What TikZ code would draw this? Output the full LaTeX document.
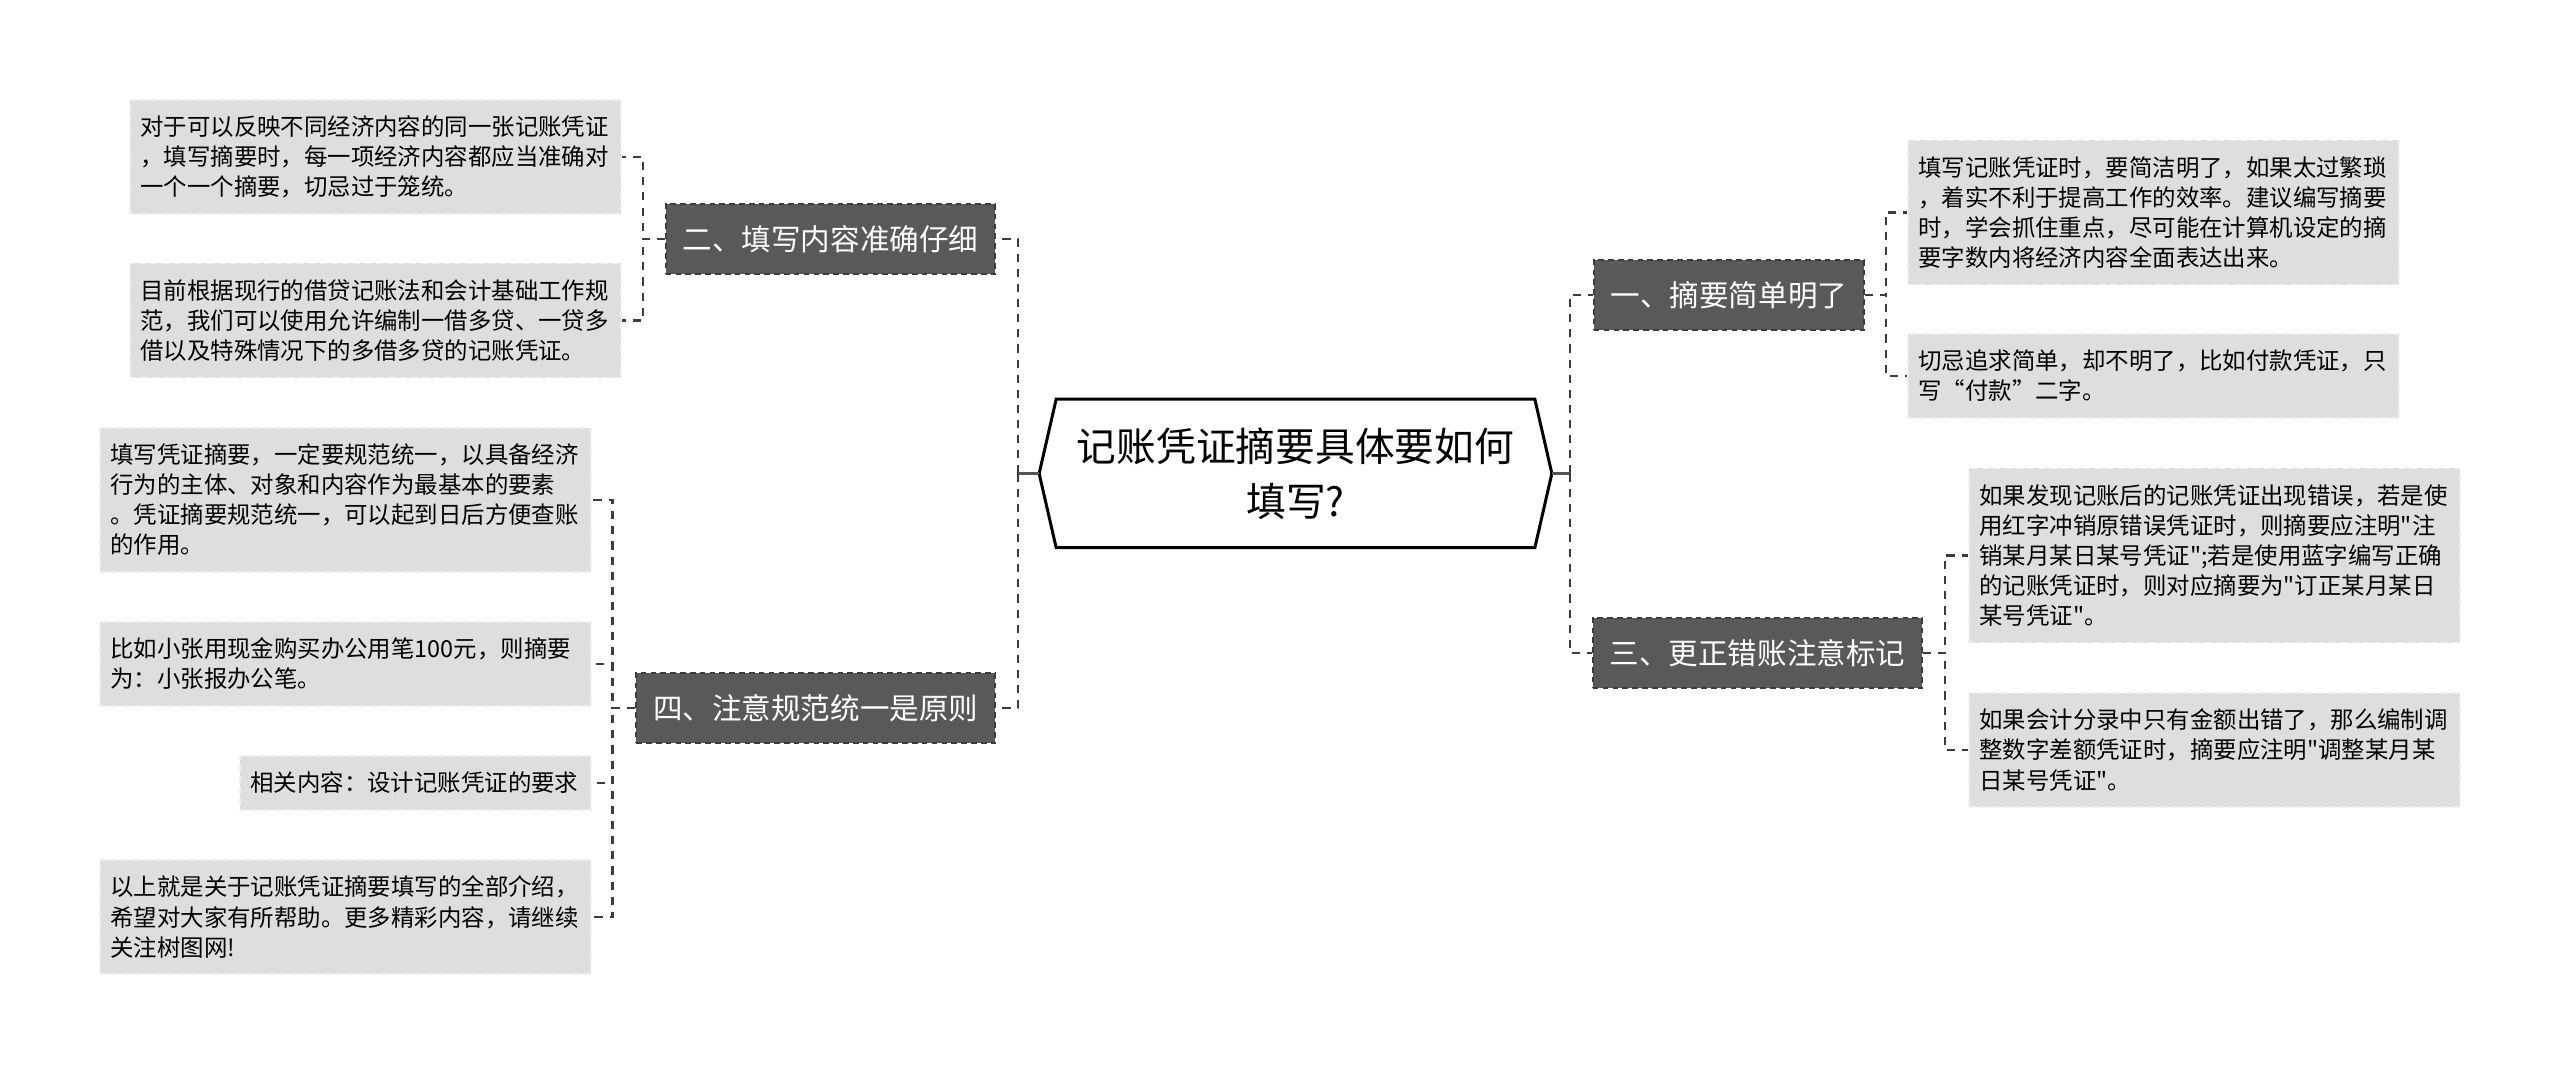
\documentclass[tikz,border=0pt]{standalone}
\usepackage{fontspec}
\newfontfamily\cjkfont{Noto Sans CJK SC}
\usetikzlibrary{calc}
\definecolor{branchgray}{HTML}{595959}
\definecolor{leafgray}{HTML}{DEDEDE}
\definecolor{linegray}{HTML}{3C3C3C}
\definecolor{stubgray}{HTML}{555555}

\begin{document}
\begin{tikzpicture}[
    x=0.01cm, y=-0.01cm,
    root/.style={rectangle, minimum width=5.11cm, minimum height=1.47cm, align=center, font=\cjkfont\fontsize{11.3pt}{15.6pt}\selectfont},
    rootline/.style={draw=black, line width=0.85pt, fill=white, line join=miter},
    topic/.style={rectangle, draw=linegray, line width=0.45pt, dash pattern=on 1.6pt off 1.2pt, fill=branchgray, text=white, minimum height=0.7cm, inner xsep=0.17cm, inner ysep=0pt, font=\cjkfont\fontsize{8.4pt}{10pt}\selectfont},
    leaf/.style={rectangle, draw=black!6, line width=0.5pt, dash pattern=on 1.8pt off 1.4pt, fill=leafgray, text width=4.7cm, align=left, inner xsep=0.105cm, inner ysep=0pt, font=\cjkfont\fontsize{6.66pt}{8.54pt}\selectfont},
    nlines/.style={minimum height=#1*0.3cm+0.24cm},
    link/.style={draw=linegray, line width=0.6pt, dash pattern=on 2.3pt off 2pt},
    stub/.style={draw=stubgray, line width=1.1pt}
  ]%
  \useasboundingbox (0,0) rectangle (2560,1074);
  %
  % Nodo central
  \node[root] (root) at (1295.5,473.5) {};
  \draw[rootline] (root.west) -- ([xshift=0.17cm]root.north west) -- ([xshift=-0.17cm]root.north east)
    -- (root.east) -- ([xshift=-0.17cm]root.south east) -- ([xshift=0.17cm]root.south west) -- cycle;
  \node[root] (roottext) at (root) {记账凭证摘要具体要如何\\填写?};
  \coordinate (busL) at (1018,473.5);
  \coordinate (busR) at (1570,473.5);
  %
  % Temas
  \node[topic, anchor=east] (detail) at (996,239) {二、填写内容准确仔细};
  \node[topic, anchor=east] (norm) at (996,708) {四、注意规范统一是原则};
  \node[topic, anchor=west] (simple) at (1593,295) {一、摘要简单明了};
  \node[topic, anchor=west] (correct) at (1592,653) {三、更正错账注意标记};
  %
  % Hojas izquierda
  \node[leaf, nlines=3, anchor=east] (detailA) at (622,157) {对于可以反映不同经济内容的同一张记账凭证\\，填写摘要时，每一项经济内容都应当准确对\\一个一个摘要，切忌过于笼统。};
  \node[leaf, nlines=3, anchor=east] (detailB) at (622,320.5) {目前根据现行的借贷记账法和会计基础工作规\\范，我们可以使用允许编制一借多贷、一贷多\\借以及特殊情况下的多借多贷的记账凭证。};
  \node[leaf, nlines=4, anchor=east] (normA) at (592,500) {填写凭证摘要，一定要规范统一，以具备经济\\行为的主体、对象和内容作为最基本的要素\\。凭证摘要规范统一，可以起到日后方便查账\\的作用。};
  \node[leaf, nlines=2, anchor=east] (normB) at (592,664) {比如小张用现金购买办公用笔100元，则摘要\\为：小张报办公笔。};
  \node[leaf, nlines=1, anchor=east, text width=3.3cm] (normC) at (592,783) {相关内容：设计记账凭证的要求};
  \node[leaf, nlines=3, anchor=east] (normD) at (592,917) {以上就是关于记账凭证摘要填写的全部介绍，\\希望对大家有所帮助。更多精彩内容，请继续\\关注树图网!};
  %
  % Hojas derecha
  \node[leaf, nlines=4, anchor=west] (simpleA) at (1907,212.5) {填写记账凭证时，要简洁明了，如果太过繁琐\\，着实不利于提高工作的效率。建议编写摘要\\时，学会抓住重点，尽可能在计算机设定的摘\\要字数内将经济内容全面表达出来。};
  \node[leaf, nlines=2, anchor=west] (simpleB) at (1907,376) {切忌追求简单，却不明了，比如付款凭证，只\\写“付款”二字。};
  \node[leaf, nlines=5, anchor=west] (correctA) at (1968,555.5) {如果发现记账后的记账凭证出现错误，若是使\\用红字冲销原错误凭证时，则摘要应注明"注\\销某月某日某号凭证";若是使用蓝字编写正确\\的记账凭证时，则对应摘要为"订正某月某日\\某号凭证"。};
  \node[leaf, nlines=3, anchor=west] (correctB) at (1968,750) {如果会计分录中只有金额出错了，那么编制调\\整数字差额凭证时，摘要应注明"调整某月某\\日某号凭证"。};
  %
  % Conexiones centrales
  \draw[stub] (root.west) -- (busL);
  \draw[stub] (root.east) -- (busR);
  \draw[link] (busL) |- (detail.east);
  \draw[link] (busL) |- (norm.east);
  \draw[link] (busR) |- (simple.west);
  \draw[link] (busR) |- (correct.west);
  %
  % Conexiones a hojas
  \draw[link] (detail.west) -- ++(-22,0) |- (detailA.east);
  \draw[link] (detail.west) -- ++(-22,0) |- (detailB.east);
  \draw[link] (norm.west) -- ++(-23,0) |- (normA.east);
  \draw[link] (norm.west) -- ++(-23,0) |- (normB.east);
  \draw[link] (norm.west) -- ++(-23,0) |- (normC.east);
  \draw[link] (norm.west) -- ++(-23,0) |- (normD.east);
  \draw[link] (simple.east) -- ++(21,0) |- (simpleA.west);
  \draw[link] (simple.east) -- ++(21,0) |- (simpleB.west);
  \draw[link] (correct.east) -- ++(22,0) |- (correctA.west);
  \draw[link] (correct.east) -- ++(22,0) |- (correctB.west);
\end{tikzpicture}
\end{document}
